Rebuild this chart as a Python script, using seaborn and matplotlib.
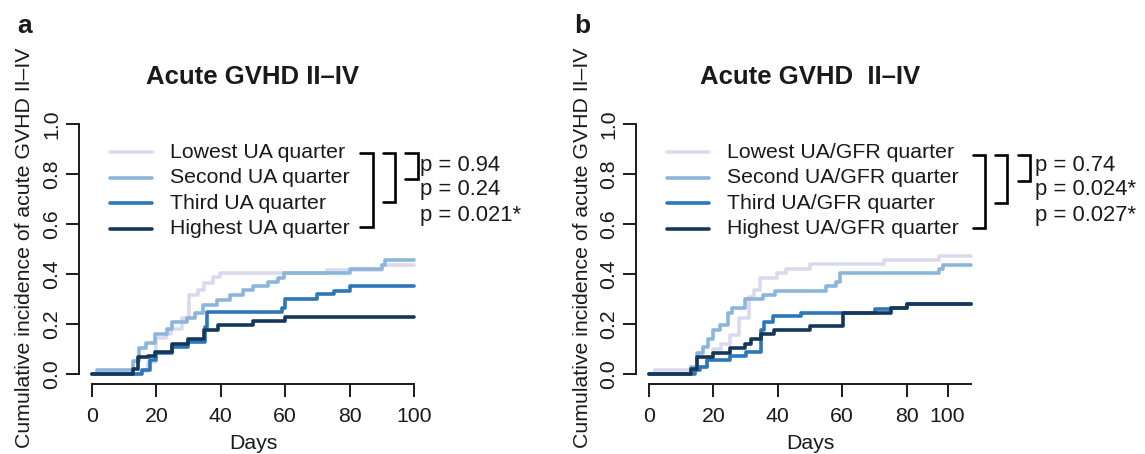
import numpy as np
import pandas as pd
import matplotlib
matplotlib.use("Agg")
import matplotlib.pyplot as plt
from matplotlib.lines import Line2D
import seaborn as sns

# ---------------- data ----------------
groups_a = ["Lowest UA quarter", "Second UA quarter", "Third UA quarter", "Highest UA quarter"]
groups_b = ["Lowest UA/GFR quarter", "Second UA/GFR quarter", "Third UA/GFR quarter", "Highest UA/GFR quarter"]

lowest_a_days = [0, 14.9, 17.5, 19.8, 23, 24.5, 27.8, 30, 33, 34.8, 37.7, 39.8, 72.9, 90, 100]
lowest_a_vals = [0, 0.012, 0.05, 0.143, 0.16, 0.18, 0.223, 0.317, 0.337, 0.366, 0.39, 0.406, 0.417, 0.437, 0.437]
second_a_days = [0, 1.5, 12.6, 14.7, 16.8, 19.6, 23.2, 25, 29.4, 32, 34.6, 38.7, 42.9, 47, 50.1, 54.8, 57.9, 59.5, 80, 90, 91, 100]
second_a_vals = [0, 0.016, 0.052, 0.103, 0.123, 0.159, 0.179, 0.21, 0.226, 0.243, 0.277, 0.297, 0.317, 0.337, 0.353, 0.37, 0.384, 0.404, 0.421, 0.437, 0.457, 0.457]
third_a_days = [0, 15.4, 18, 20, 24.7, 29.7, 35.2, 35.8, 58.9, 60, 70, 75, 80, 100]
third_a_vals = [0, 0.018, 0.056, 0.085, 0.11, 0.13, 0.19, 0.247, 0.263, 0.3, 0.319, 0.334, 0.353, 0.353]
highest_a_days = [0, 12.8, 14.4, 17.3, 19.6, 24.7, 29.8, 34.9, 39, 50, 60, 100]
highest_a_vals = [0, 0.02, 0.067, 0.072, 0.089, 0.12, 0.14, 0.176, 0.195, 0.214, 0.227, 0.227]

lowest_b_days = [0, 1.9, 14.8, 17.9, 19.9, 22.5, 25.3, 27.8, 31, 32.5, 34.5, 39.8, 42.7, 49.9, 73, 90, 100]
lowest_b_vals = [0, 0.016, 0.03, 0.056, 0.1, 0.12, 0.155, 0.225, 0.31, 0.337, 0.385, 0.404, 0.421, 0.44, 0.457, 0.474, 0.474]
second_b_days = [0, 13.2, 14.8, 16.8, 18.4, 19.9, 22, 24.6, 25.9, 29.8, 35.4, 39.1, 54.9, 58.2, 59.4, 90.2, 91.3, 100]
second_b_vals = [0, 0.03, 0.085, 0.107, 0.14, 0.176, 0.196, 0.246, 0.266, 0.3, 0.317, 0.333, 0.353, 0.37, 0.404, 0.421, 0.437, 0.437]
third_b_days = [0, 14.3, 15.8, 17.9, 25.1, 30, 34.9, 35.8, 38.6, 47.1, 70.1, 75.2, 80.2, 100]
third_b_vals = [0, 0.016, 0.03, 0.056, 0.072, 0.089, 0.175, 0.21, 0.232, 0.246, 0.26, 0.263, 0.28, 0.28]
highest_b_days = [0, 13.2, 14.8, 19.9, 25.1, 29.8, 31.8, 34.9, 38.9, 49.9, 60.2, 75.2, 80.2, 100]
highest_b_vals = [0, 0.019, 0.069, 0.085, 0.103, 0.12, 0.139, 0.159, 0.176, 0.192, 0.246, 0.263, 0.28, 0.28]

pvals_a = ["p = 0.94", "p = 0.24", "p = 0.021*"]
pvals_b = ["p = 0.74", "p = 0.024*", "p = 0.027*"]

y_ticks = [0.0, 0.2, 0.4, 0.6, 0.8, 1.0]
y_tick_labels = ["0.0", "0.2", "0.4", "0.6", "0.8", "1.0"]
x_ticks_a = [0, 20, 40, 60, 80, 100]
x_ticks_b = [0, 20, 40, 60, 80, 92.7]
x_tick_labels = ["0", "20", "40", "60", "80", "100"]

colors = ["#dadaee", "#8cb5da", "#2c77b8", "#16375c"]


def make_df(groups, series):
    rows = []
    for g, (d, v) in zip(groups, series):
        for di, vi in zip(d, v):
            rows.append({"day": di, "cif": vi, "group": g})
    return pd.DataFrame(rows)


df_a = make_df(groups_a, [(lowest_a_days, lowest_a_vals), (second_a_days, second_a_vals),
                          (third_a_days, third_a_vals), (highest_a_days, highest_a_vals)])
df_b = make_df(groups_b, [(lowest_b_days, lowest_b_vals), (second_b_days, second_b_vals),
                          (third_b_days, third_b_vals), (highest_b_days, highest_b_vals)])

# ---------------- style ----------------
sns.set_theme(style="ticks")
plt.rcParams["font.family"] = ["Liberation Sans", "DejaVu Sans"]

W, H = 1145, 454
fig = plt.figure(figsize=(W / 100, H / 100), dpi=100)


def fx(px):
    return px / W


def fy(py):
    return 1 - py / H


FS = 15.3
INK = "#1a1a1a"
LW = 2.6


def setup_panel(ax, df, groups, xticks, title, letter, off, pvals, brackets, ptext_x):
    sns.lineplot(data=df, x="day", y="cif", hue="group", hue_order=groups,
                 palette=colors, drawstyle="steps-post", estimator=None,
                 linewidth=LW, legend=False, ax=ax, sort=False)
    ax.set_xlim(-4, 104)
    ax.set_ylim(-0.04, 1.04)
    for s in ["top", "right"]:
        ax.spines[s].set_visible(False)
    ax.spines["left"].set_bounds(0, 1)
    ax.spines["bottom"].set_bounds(0, 100)
    for s in ["left", "bottom"]:
        ax.spines[s].set_linewidth(1.4)
        ax.spines[s].set_color(INK)
    ax.set_xticks(xticks)
    ax.set_xticklabels(x_tick_labels, fontsize=FS)
    ax.set_yticks(y_ticks)
    ax.set_yticklabels(y_tick_labels, fontsize=FS, rotation=90, va="center")
    ax.tick_params(axis="both", length=9.3, width=1.4, color=INK, labelcolor=INK)
    ax.tick_params(axis="x", pad=7.5)
    ax.tick_params(axis="y", pad=3.5)
    ax.set_xlabel("Days", fontsize=FS, color=INK, labelpad=5.5)
    ax.set_ylabel("")
    ax.grid(False)

    # y label, title, panel letter
    fig.text(fx(25 + off), fy(248), "Cumulative incidence of acute GVHD II–IV", rotation=90,
             ha="center", va="center", fontsize=FS, color=INK)
    fig.text(fx(253 + off), fy(77), title, ha="center", va="center", fontsize=18.5,
             fontweight="bold", color=INK)
    fig.text(fx(25 + off), fy(26), letter, ha="center", va="center", fontsize=19,
             fontweight="bold", color=INK)

    # legend
    rows_y = [152, 177.5, 203, 228.5]
    for g, c, ry in zip(groups, colors, rows_y):
        fig.add_artist(Line2D([fx(110 + off), fx(152 + off)], [fy(ry), fy(ry)],
                              color=c, linewidth=LW, solid_capstyle="round"))
        fig.text(fx(170 + off), fy(ry), g, ha="left", va="center", fontsize=FS, color=INK)

    # brackets
    for (x0, x1, y0, y1) in brackets:
        fig.add_artist(Line2D([fx(x0), fx(x1), fx(x1), fx(x0)],
                              [fy(y0), fy(y0), fy(y1), fy(y1)],
                              color="black", linewidth=1.9, solid_joinstyle="miter"))
    for t, py in zip(pvals, [165, 190, 215]):
        fig.text(fx(ptext_x), fy(py), t, ha="left", va="center", fontsize=FS + 0.5, color=INK)


ax_a = fig.add_axes([fx(79.1), (H - 384) / H, 347.8 / W, 269.5 / H])
ax_b = fig.add_axes([fx(636.1), (H - 384) / H, 347.8 / W, 269.5 / H])

setup_panel(ax_a, df_a, groups_a, x_ticks_a, "Acute GVHD II–IV", "a", 0, pvals_a,
            [(360, 373, 153, 227), (383, 395, 153, 202), (405, 418, 153, 179)], 420)
setup_panel(ax_b, df_b, groups_b, x_ticks_b, "Acute GVHD  II–IV", "b", 557, pvals_b,
            [(973, 985, 155, 228), (995, 1007, 155, 203), (1018, 1030, 155, 181)], 1035)

fig.savefig("out.png", dpi=100)
